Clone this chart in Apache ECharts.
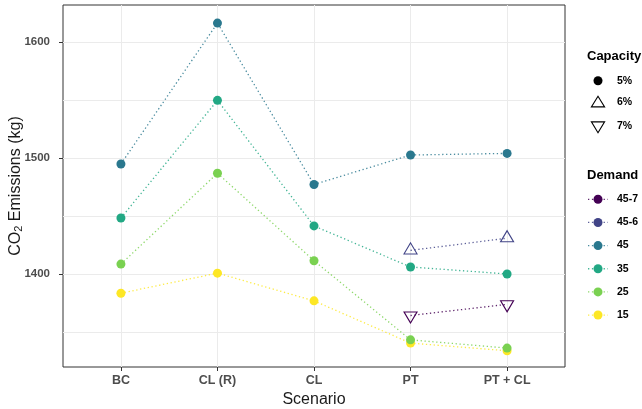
<!DOCTYPE html>
<html>
<head>
<meta charset="utf-8">
<script src="https://cdn.jsdelivr.net/npm/echarts@6/dist/echarts.min.js"></script>
<style>
  html, body { margin: 0; padding: 0; background: #ffffff; }
  #chart { width: 642px; height: 409px; }
</style>
</head>
<body>
<div id="chart"></div>
<script>
// Scenarios on the x axis
const scenarios = ['BC', 'CL (R)', 'CL', 'PT', 'PT + CL'];

// CO2 emissions (kg) per demand level, one value per scenario
const demand45 = [1495.0, 1616.4, 1477.3, 1502.7, 1504.1];
const demand35 = [1448.4, 1549.8, 1441.6, 1406.2, 1400.2];
const demand25 = [1408.7, 1487.0, 1411.6, 1343.4, 1336.3];
const demand15 = [1383.6, 1400.9, 1377.0, 1340.6, 1334.0];
const demand45_6 = [null, null, null, 1420.5, 1431.0]; // 6% capacity
const demand45_7 = [null, null, null, 1364.4, 1374.0]; // 7% capacity

const yTicks = [1400, 1500, 1600];
const yGrid = [1350, 1400, 1450, 1500, 1550, 1600];

const capacityLabels = ['5%', '6%', '7%'];
const demandLabels = ['45-7', '45-6', '45', '35', '25', '15'];
const demandColors = {
  '45-7': '#440154', '45-6': '#414487', '45': '#2A788E',
  '35': '#22A884', '25': '#7AD151', '15': '#FDE725'
};

const FONT = "'Liberation Sans', Arial, sans-serif";
const DOTS = [1.3, 2.6];

function pairs(values) {
  return values.map((v, i) => [i, v]).filter(p => p[1] !== null);
}

function lineSeries(name, values, symbolKind) {
  const color = demandColors[name];
  const s = {
    type: 'line',
    name: name,
    data: pairs(values),
    lineStyle: { color: color, width: 1.3, type: DOTS, opacity: 0.85 },
    itemStyle: { color: color },
    symbol: 'circle',
    symbolSize: 9,
    showSymbol: true,
    animation: false,
    silent: true
  };
  if (symbolKind === 'up') {
    s.symbol = 'triangle';
    s.symbolSize = [13, 11];
    s.symbolOffset = [0, -2];
    s.itemStyle = { color: 'rgba(255,255,255,0)', borderColor: color, borderWidth: 1.1 };
  } else if (symbolKind === 'down') {
    s.symbol = 'triangle';
    s.symbolSize = [13, 11];
    s.symbolRotate = 180;
    s.symbolOffset = [0, 2];
    s.itemStyle = { color: 'rgba(255,255,255,0)', borderColor: color, borderWidth: 1.1 };
  }
  return s;
}

// Drawing order: lowest demand first so higher demand points sit on top
const series = [
  lineSeries('15', demand15),
  lineSeries('25', demand25),
  lineSeries('35', demand35),
  lineSeries('45', demand45),
  lineSeries('45-6', demand45_6, 'up'),
  lineSeries('45-7', demand45_7, 'down')
];

// Legend drawn as graphic elements
const legend = [];
const keyX = 598, labelX = 617;
function legendText(t, x, y, font) {
  return { type: 'text', x: x, y: y, style: { text: t, font: font, fill: '#000', align: 'left', verticalAlign: 'middle', textAlign: 'left', textVerticalAlign: 'middle' } };
}
legend.push(legendText('Capacity', 587, 56, 'bold 13px ' + FONT));
const capY = [80.7, 102.5, 126.5];
legend.push({ type: 'circle', shape: { cx: keyX, cy: capY[0], r: 4.5 }, style: { fill: '#000' } });
legend.push({ type: 'polygon', shape: { points: [[keyX, capY[1] - 6.2], [keyX + 6.6, capY[1] + 4.4], [keyX - 6.6, capY[1] + 4.4]] }, style: { fill: 'none', stroke: '#000', lineWidth: 1.1 } });
legend.push({ type: 'polygon', shape: { points: [[keyX - 6.6, capY[2] - 4.6], [keyX + 6.6, capY[2] - 4.6], [keyX, capY[2] + 6.2]] }, style: { fill: 'none', stroke: '#000', lineWidth: 1.1 } });
capacityLabels.forEach((t, i) => legend.push(legendText(t, labelX, capY[i], 'bold 10.5px ' + FONT)));
legend.push(legendText('Demand', 587, 175, 'bold 13px ' + FONT));
demandLabels.forEach((t, i) => {
  const y = 199.3 + i * 23.15;
  const c = demandColors[t];
  legend.push({ type: 'line', shape: { x1: 588, y1: y, x2: 608, y2: y }, style: { stroke: c, lineWidth: 1.3, lineDash: DOTS, opacity: 0.85 } });
  legend.push({ type: 'circle', shape: { cx: keyX, cy: y, r: 4.5 }, style: { fill: c } });
  legend.push(legendText(t, labelX, y, 'bold 10.5px ' + FONT));
});

const chart = echarts.init(document.getElementById('chart'), null, { renderer: 'canvas' });
chart.setOption({
  animation: false,
  backgroundColor: '#ffffff',
  grid: {
    left: 63, right: 77, top: 5, bottom: 42,
    containLabel: false,
    outerBoundsMode: 'none',
    show: true, borderColor: '#333333', borderWidth: 1, backgroundColor: 'transparent'
  },
  xAxis: {
    type: 'value',
    min: -0.6, max: 4.6,
    name: 'Scenario',
    nameLocation: 'middle',
    nameGap: 25,
    nameMoveOverlap: false,
    nameTextStyle: { fontFamily: FONT, fontSize: 16, color: '#1a1a1a', verticalAlign: 'top' },
    axisLine: { show: false, onZero: false },
    axisTick: { show: true, customValues: [0, 1, 2, 3, 4], length: 4, lineStyle: { color: '#333333', width: 1 } },
    axisLabel: {
      customValues: [0, 1, 2, 3, 4],
      formatter: v => scenarios[Math.round(v)] || '',
      margin: 7, fontFamily: FONT, fontSize: 12.5, fontWeight: 'bold', color: '#4D4D4D'
    },
    splitLine: { show: true, lineStyle: { color: '#EBEBEB', width: 1 } }
  },
  yAxis: [{
    type: 'value',
    min: 1320, max: 1632,
    name: '{a|CO}{s|2}{a| Emissions (kg)}',
    nameLocation: 'middle',
    nameGap: 39,
    nameRotate: 90,
    nameMoveOverlap: false,
    nameTextStyle: {
      fontFamily: FONT, color: '#1a1a1a',
      rich: {
        a: { fontFamily: FONT, fontSize: 16, color: '#1a1a1a' },
        s: { fontFamily: FONT, fontSize: 11, color: '#1a1a1a', verticalAlign: 'bottom', padding: [6, 0, 0, 0] }
      }
    },
    axisLine: { show: false, onZero: false },
    axisTick: { show: true, customValues: yTicks, length: 4, lineStyle: { color: '#333333', width: 1 } },
    axisLabel: { customValues: yTicks, formatter: v => String(v), margin: 13, fontFamily: FONT, fontSize: 11.5, fontWeight: 'bold', color: '#4D4D4D' },
    splitLine: { show: false }
  }, {
    type: 'value',
    min: 1320, max: 1632,
    position: 'left',
    axisLine: { show: false, onZero: false },
    axisTick: { show: false, customValues: yGrid },
    axisLabel: { show: false, customValues: yGrid },
    splitLine: { show: true, lineStyle: { color: '#EBEBEB', width: 1 } }
  }],
  series: series,
  graphic: legend
});
</script>
</body>
</html>
